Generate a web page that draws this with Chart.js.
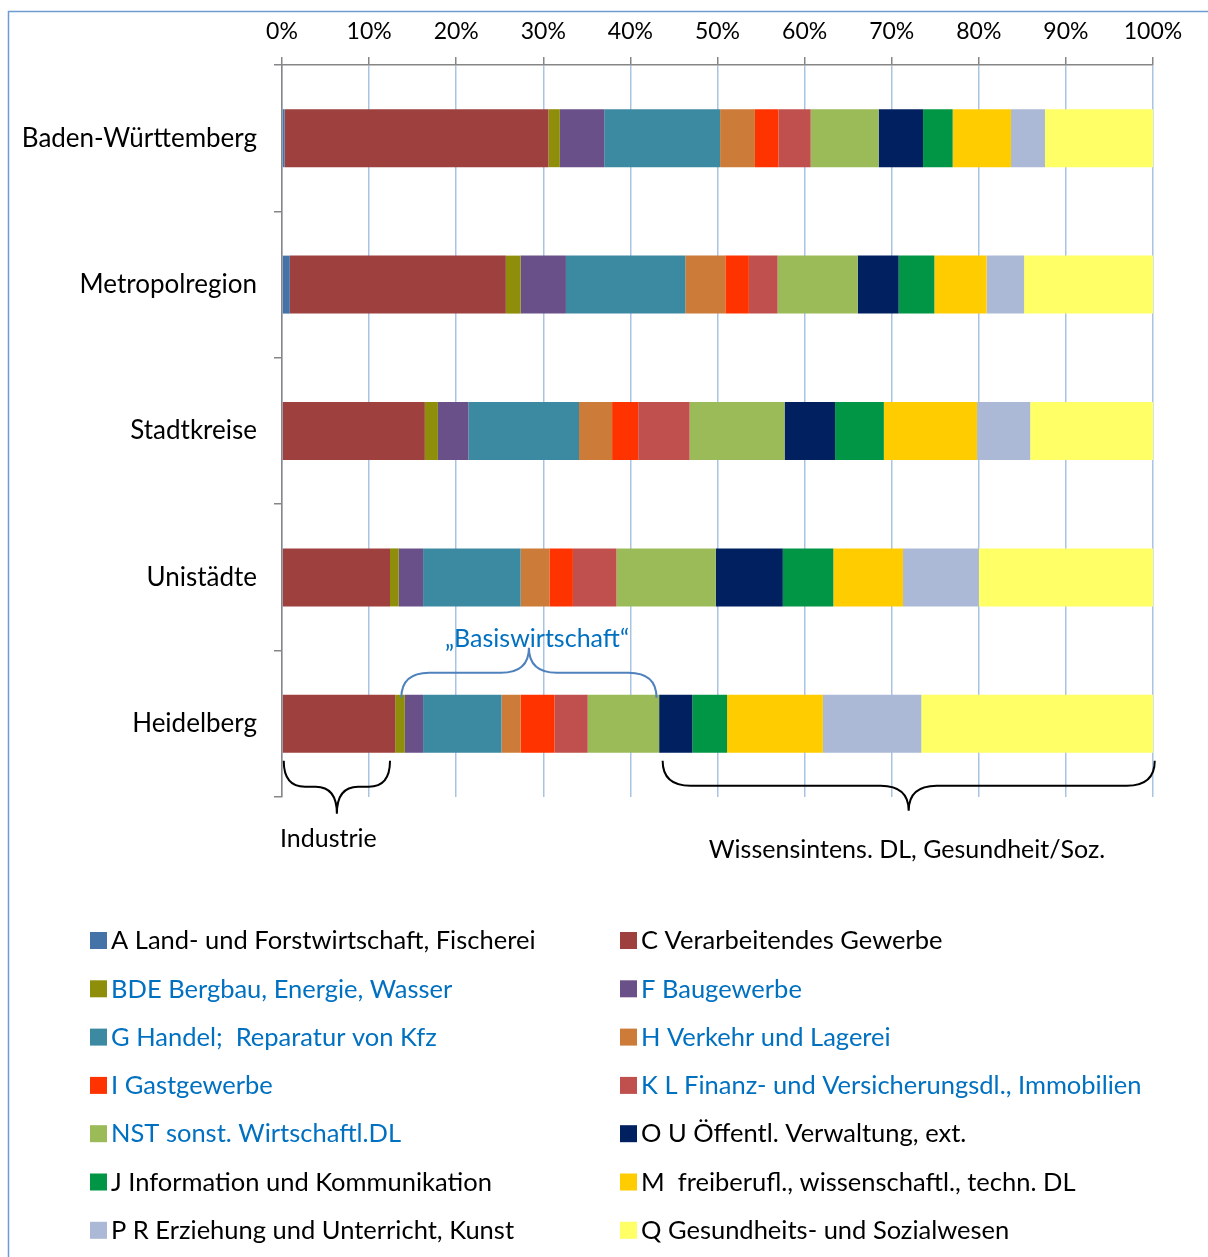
<!DOCTYPE html>
<html lang="de">
<head>
  <meta charset="UTF-8">
  <title>Branchenstruktur</title>
  <script src="https://cdn.jsdelivr.net/npm/chart.js"></script>
  <style>
    body { margin: 0; background: #fff; }
  </style>
</head>
<body>
  <canvas id="branchenChart" width="1208" height="1257"></canvas>

  <script>
    // Regionen (Kategorien)
    const regions = ['Baden-Württemberg', 'Metropolregion', 'Stadtkreise', 'Unistädte', 'Heidelberg'];

    // Anteile in % je Wirtschaftszweig, Reihenfolge wie regions
    const landForst     = [0.3, 0.9, 0.1, 0.1, 0.1];
    const verarbeitend  = [30.3, 24.8, 16.3, 12.3, 12.9];
    const bergbau       = [1.3, 1.7, 1.5, 1.0, 1.1];
    const bau           = [5.1, 5.2, 3.5, 2.8, 2.1];
    const handel        = [13.3, 13.7, 12.7, 11.2, 9.0];
    const verkehr       = [4.0, 4.6, 3.8, 3.3, 2.2];
    const gastgewerbe   = [2.7, 2.7, 3.0, 2.7, 3.9];
    const finanz        = [3.7, 3.3, 5.9, 5.0, 3.8];
    const sonstDL       = [7.8, 9.2, 10.9, 11.4, 8.2];
    const verwaltung    = [5.1, 4.7, 5.8, 7.7, 3.8];
    const information   = [3.4, 4.1, 5.6, 5.8, 4.0];
    const freiberufl    = [6.7, 6.0, 10.7, 8.0, 11.0];
    const erziehung     = [3.9, 4.3, 6.1, 8.7, 11.3];
    const gesundheit    = [12.4, 14.8, 14.1, 20.0, 26.6];

    const xTicks = [0, 10, 20, 30, 40, 50, 60, 70, 80, 90, 100];

    // Klammern unter/über Heidelberg (Start- und Endwert in %)
    const industrieSpan = [0.2, 12.4];
    const basisSpan = [13.7, 43.0];
    const wissenSpan = [43.7, 100.2];

    const datasets = [
      { label: 'A Land- und Forstwirtschaft, Fischerei', data: landForst, backgroundColor: '#4572A7' },
      { label: 'C Verarbeitendes Gewerbe', data: verarbeitend, backgroundColor: '#9E413E' },
      { label: 'BDE Bergbau, Energie, Wasser', data: bergbau, backgroundColor: '#8E8E0A', basis: true },
      { label: 'F Baugewerbe', data: bau, backgroundColor: '#6A5088', basis: true },
      { label: 'G Handel;  Reparatur von Kfz', data: handel, backgroundColor: '#3C8AA1', basis: true },
      { label: 'H Verkehr und Lagerei', data: verkehr, backgroundColor: '#CC7B38', basis: true },
      { label: 'I Gastgewerbe', data: gastgewerbe, backgroundColor: '#FF3300', basis: true },
      { label: 'K L Finanz- und Versicherungsdl., Immobilien', data: finanz, backgroundColor: '#C0504D', basis: true },
      { label: 'NST sonst. Wirtschaftl.DL', data: sonstDL, backgroundColor: '#9BBB59', basis: true },
      { label: 'O U Öffentl. Verwaltung, ext.', data: verwaltung, backgroundColor: '#002060' },
      { label: 'J Information und Kommunikation', data: information, backgroundColor: '#009645' },
      { label: 'M  freiberufl., wissenschaftl., techn. DL', data: freiberufl, backgroundColor: '#FFCC00' },
      { label: 'P R Erziehung und Unterricht, Kunst', data: erziehung, backgroundColor: '#ABB9D6' },
      { label: 'Q Gesundheits- und Sozialwesen', data: gesundheit, backgroundColor: '#FFFF66' }
    ];

    const FONT = 'Lato, "Open Sans", sans-serif';
    const BLUE_TEXT = '#0070C0';

    function drawBrace(ctx, x1, x2, y0, y1, y2) {
      const xc = (x1 + x2) / 2;
      const r = Math.min(28, (x2 - x1) / 5);
      ctx.beginPath();
      ctx.moveTo(x1, y0);
      ctx.quadraticCurveTo(x1, y1, x1 + r, y1);
      ctx.lineTo(xc - r, y1);
      ctx.quadraticCurveTo(xc, y1, xc, y2);
      ctx.quadraticCurveTo(xc, y1, xc + r, y1);
      ctx.lineTo(x2 - r, y1);
      ctx.quadraticCurveTo(x2, y1, x2, y0);
      ctx.stroke();
    }

    // Rahmen um das Diagramm
    const framePlugin = {
      id: 'frame',
      beforeDraw(chart) {
        const ctx = chart.ctx;
        ctx.save();
        ctx.fillStyle = '#fff';
        ctx.fillRect(0, 0, chart.width, chart.height);
        ctx.strokeStyle = '#6E9BD0';
        ctx.lineWidth = 1.5;
        ctx.strokeRect(8.5, 11.5, chart.width + 20, chart.height + 20);
        ctx.restore();
      }
    };

    // Klammern und Beschriftungen
    const bracePlugin = {
      id: 'braces',
      afterDraw(chart) {
        const ctx = chart.ctx;
        const x = chart.scales.x;
        const y = chart.scales.y;
        const yc = y.getPixelForValue(4);
        const barBottom = yc + 29, barTop = yc - 29;
        ctx.save();
        ctx.lineWidth = 2;

        ctx.strokeStyle = '#000';
        drawBrace(ctx, x.getPixelForValue(industrieSpan[0]), x.getPixelForValue(industrieSpan[1]),
          barBottom + 8, barBottom + 34, barBottom + 61);
        drawBrace(ctx, x.getPixelForValue(wissenSpan[0]), x.getPixelForValue(wissenSpan[1]),
          barBottom + 8, barBottom + 33, barBottom + 58);

        ctx.strokeStyle = '#4F81BD';
        drawBrace(ctx, x.getPixelForValue(basisSpan[0]), x.getPixelForValue(basisSpan[1]),
          barTop + 3, barTop - 22, barTop - 47);

        ctx.font = '25px ' + FONT;
        ctx.textBaseline = 'middle';
        ctx.fillStyle = BLUE_TEXT;
        ctx.textAlign = 'center';
        ctx.fillText('\u201EBasiswirtschaft\u201C', 537, barTop - 56);
        ctx.fillStyle = '#000';
        ctx.textAlign = 'left';
        ctx.fillText('Industrie', 280, barBottom + 86);
        ctx.textAlign = 'center';
        ctx.fillText('Wissensintens. DL, Gesundheit/Soz.', 907, barBottom + 97);
        ctx.restore();
      }
    };

    // Legende in zwei Spalten
    const legendPlugin = {
      id: 'twoColLegend',
      afterDraw(chart) {
        const ctx = chart.ctx;
        ctx.save();
        ctx.font = '25.5px ' + FONT;
        ctx.textBaseline = 'middle';
        ctx.textAlign = 'left';
        chart.data.datasets.forEach((ds, i) => {
          const col = i % 2;
          const row = Math.floor(i / 2);
          const bx = col === 0 ? 90 : 620;
          const cy = 940 + row * 48.3;
          ctx.fillStyle = ds.backgroundColor;
          ctx.fillRect(bx, cy - 8, 17, 17);
          ctx.fillStyle = ds.basis ? BLUE_TEXT : '#000';
          ctx.fillText(ds.label, bx + 21, cy + 1);
        });
        ctx.restore();
      }
    };

    const ctx = document.getElementById('branchenChart').getContext('2d');
    new Chart(ctx, {
      type: 'bar',
      data: { labels: regions, datasets: datasets },
      options: {
        indexAxis: 'y',
        responsive: false,
        animation: false,
        barPercentage: 0.396,
        categoryPercentage: 1,
        layout: { padding: { top: 0, left: 0, right: 55, bottom: 460 } },
        plugins: {
          legend: { display: false },
          tooltip: { enabled: false }
        },
        scales: {
          x: {
            position: 'top',
            stacked: true,
            min: 0,
            max: 100,
            afterBuildTicks: (scale) => { scale.ticks = xTicks.map(v => ({ value: v })); },
            afterFit: (scale) => { scale.height = 65; },
            ticks: {
              callback: v => v + '%',
              color: '#000',
              font: { family: FONT, size: 23 },
              padding: 12,
              maxRotation: 0
            },
            grid: {
              color: '#A9C3E3',
              lineWidth: 1.5,
              tickColor: '#868686',
              tickLength: 8
            },
            border: { color: '#868686', width: 1.5 }
          },
          y: {
            stacked: true,
            afterFit: (scale) => { scale.width = 282; },
            ticks: {
              color: '#000',
              font: { family: FONT, size: 26 },
              padding: 17
            },
            grid: {
              offset: true,
              drawOnChartArea: false,
              tickColor: '#868686',
              tickLength: 8,
              lineWidth: 1.5
            },
            border: { color: '#868686', width: 1.5 }
          }
        }
      },
      plugins: [framePlugin, bracePlugin, legendPlugin]
    });
  </script>
</body>
</html>
